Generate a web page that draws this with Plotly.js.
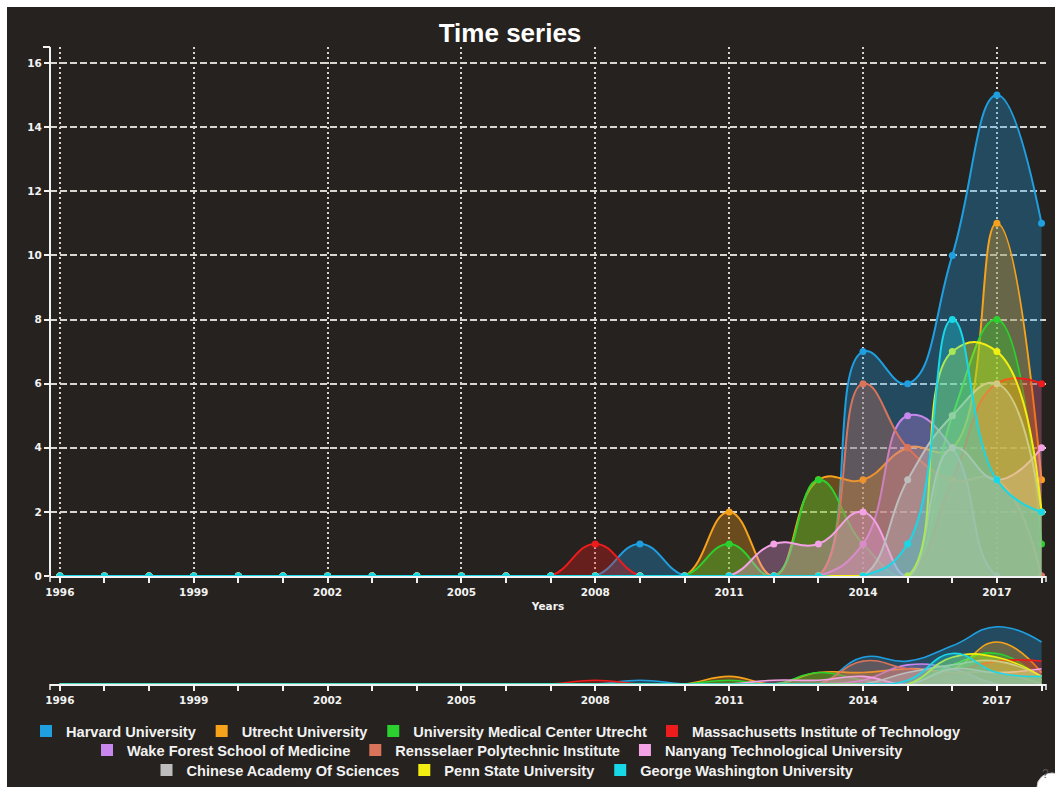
<!DOCTYPE html>
<html>
<head>
<meta charset="utf-8">
<script src="https://cdn.plot.ly/plotly-3.0.1.min.js"></script>
<style>
  html, body { margin: 0; padding: 0; background: #ffffff; }
  #chart { position: absolute; left: 7px; top: 7px; width: 1048px; height: 780px; }
</style>
</head>
<body>
<div id="chart"></div>
<script>
// Publications per year for each institution
const years = [1996, 1997, 1998, 1999, 2000, 2001, 2002, 2003, 2004, 2005, 2006, 2007,
               2008, 2009, 2010, 2011, 2012, 2013, 2014, 2015, 2016, 2017, 2018];

const seriesNames = [
  'Harvard University',
  'Utrecht University',
  'University Medical Center Utrecht',
  'Massachusetts Institute of Technology',
  'Wake Forest School of Medicine',
  'Rensselaer Polytechnic Institute',
  'Nanyang Technological University',
  'Chinese Academy Of Sciences',
  'Penn State University',
  'George Washington University'
];

const harvard      = [0,0,0,0,0,0,0,0,0,0,0,0, 0,1,0,0,0,0, 7,6,10,15,11];
const utrecht      = [0,0,0,0,0,0,0,0,0,0,0,0, 0,0,0,2,0,3, 3,4,4,11,3];
const umcUtrecht   = [0,0,0,0,0,0,0,0,0,0,0,0, 0,0,0,1,0,3, 1,0,5,8,1];
const mit          = [0,0,0,0,0,0,0,0,0,0,0,0, 1,0,0,0,0,0, 0,0,3,6,6];
const wakeForest   = [0,0,0,0,0,0,0,0,0,0,0,0, 0,0,0,0,0,0, 1,5,4,0,0];
const rensselaer   = [0,0,0,0,0,0,0,0,0,0,0,0, 0,0,0,0,0,0, 6,4,3,3,0];
const nanyang      = [0,0,0,0,0,0,0,0,0,0,0,0, 0,0,0,0,1,1, 2,0,4,3,4];
const chineseAcad  = [0,0,0,0,0,0,0,0,0,0,0,0, 0,0,0,0,0,0, 0,3,5,6,2];
const pennState    = [0,0,0,0,0,0,0,0,0,0,0,0, 0,0,0,0,0,0, 0,0,7,7,2];
const georgeWash   = [0,0,0,0,0,0,0,0,0,0,0,0, 0,0,0,0,0,0, 0,1,8,3,2];

const seriesValues = [harvard, utrecht, umcUtrecht, mit, wakeForest,
                      rensselaer, nanyang, chineseAcad, pennState, georgeWash];

const seriesColors = ['#1f9fe0', '#f7a21b', '#2bd12e', '#ee1c1c', '#c887ee',
                      '#d9735a', '#f3a2e6', '#bdbdbd', '#f2ee12', '#18d8e8'];

// legend rows
const legendRows = [[0, 1, 2, 3], [4, 5, 6], [7, 8, 9]];

function rgba(hex, a) {
  const n = parseInt(hex.slice(1), 16);
  return 'rgba(' + ((n >> 16) & 255) + ',' + ((n >> 8) & 255) + ',' + (n & 255) + ',' + a + ')';
}

const BG = '#26221f';
const INK = '#f2f2f2';
const tickFont = { family: 'DejaVu Sans', size: 10.5, color: INK, weight: 'bold' };

const traces = [];

// focus chart: filled smooth lines with point markers
seriesValues.forEach((vals, i) => {
  traces.push({
    type: 'scatter', mode: 'lines+markers',
    x: years, y: vals, xaxis: 'x', yaxis: 'y',
    name: seriesNames[i], showlegend: false, hoverinfo: 'x+y+name',
    line: { color: seriesColors[i], width: 2, shape: 'spline', smoothing: 1.3 },
    marker: { color: seriesColors[i], size: 7 },
    fill: 'tozeroy', fillcolor: rgba(seriesColors[i], 0.33)
  });
});

// context chart underneath
seriesValues.forEach((vals, i) => {
  traces.push({
    type: 'scatter', mode: 'lines',
    x: years, y: vals, xaxis: 'x2', yaxis: 'y2',
    showlegend: false, hoverinfo: 'skip',
    line: { color: seriesColors[i], width: 1.6, shape: 'spline', smoothing: 1.3 },
    fill: 'tozeroy', fillcolor: rgba(seriesColors[i], 0.33)
  });
});

// legend swatches
legendRows.forEach((row, r) => {
  row.forEach(i => {
    traces.push({
      type: 'bar', x: [null], y: [null], xaxis: 'x2', yaxis: 'y2',
      name: seriesNames[i], marker: { color: seriesColors[i] },
      showlegend: true, legend: r === 0 ? 'legend' : 'legend' + (r + 1),
      hoverinfo: 'skip'
    });
  });
});

const W = 1048, H = 780;
const mL = 43, mR = 9, mT = 40, mB = 103;
const plotH = H - mT - mB;
const mainBottom = 569;   // px from top of the figure
const ctxTop = 614;
const mainDomain = [(H - mB - mainBottom) / plotH, 1];
const ctxDomain = [0, (H - mB - ctxTop) / plotH];
const xRange = [1995.78, 2018.1];

function legendAt(cx, cy) {
  return {
    orientation: 'h', xref: 'container', yref: 'container',
    x: cx / W, y: 1 - cy / H, xanchor: 'center', yanchor: 'middle',
    bgcolor: 'rgba(0,0,0,0)', borderwidth: 0,
    font: { family: 'Liberation Sans', size: 14.6, color: INK, weight: 'bold' },
    itemclick: false, itemdoubleclick: false, traceorder: 'normal'
  };
}

const axisX = {
  range: xRange, tickmode: 'linear', tick0: 1996, dtick: 3,
  showline: true, linecolor: INK, linewidth: 2,
  ticks: 'outside', ticklen: 5, tickwidth: 1.5, tickcolor: INK,
  tickfont: tickFont, zeroline: false, fixedrange: true,
  minor: { dtick: 1, tick0: 1996, ticks: 'outside', ticklen: 5, tickwidth: 1.5, tickcolor: INK, showgrid: false }
};

// outer ticks at the axis ends
function px2paperX(px) { return (px - mL) / (W - mL - mR); }
function px2paperY(py) { return (H - mB - py) / plotH; }
const outer = [];
[[43, 40, 36, 40], [43, 40, 43, 569]].forEach(s => {
  outer.push({ type: 'line', xref: 'paper', yref: 'paper',
    x0: px2paperX(s[0]), y0: px2paperY(s[1]), x1: px2paperX(s[2]), y1: px2paperY(s[3]),
    line: { color: INK, width: 2 } });
});
[[43, 569], [1039, 569], [43, 677], [1039, 677]].forEach(p => {
  outer.push({ type: 'line', xref: 'paper', yref: 'paper',
    x0: px2paperX(p[0]), y0: px2paperY(p[1]), x1: px2paperX(p[0]), y1: px2paperY(p[1] + 6),
    line: { color: INK, width: 1.5 } });
});
// help bubble in the corner
outer.push({ type: 'circle', xref: 'paper', yref: 'paper',
  x0: px2paperX(1030), x1: px2paperX(1060), y0: px2paperY(766), y1: px2paperY(794),
  fillcolor: '#ffffff', line: { color: '#cccccc', width: 1 } });

const layout = {
  width: W, height: H,
  margin: { l: mL, r: mR, t: mT, b: mB },
  paper_bgcolor: BG, plot_bgcolor: BG,
  title: {
    text: 'Time series', xref: 'container', yref: 'container',
    x: 503 / W, y: 1 - 26 / H, xanchor: 'center', yanchor: 'middle',
    font: { family: 'Liberation Sans', size: 26, color: '#ffffff', weight: 'bold' }
  },
  xaxis: Object.assign({}, axisX, {
    anchor: 'y', domain: [0, 1],
    showgrid: true, gridcolor: '#d9d5cf', gridwidth: 2, griddash: '2px,3px',
    title: { text: 'Years', standoff: 6, font: { family: 'DejaVu Sans', size: 10.5, color: INK, weight: 'bold' } }
  }),
  yaxis: {
    anchor: 'x', domain: mainDomain, range: [0, 16.5],
    tickmode: 'linear', tick0: 0, dtick: 2,
    showline: false, ticks: 'outside', ticklen: 5, tickwidth: 1.5, tickcolor: INK,
    tickfont: tickFont, zeroline: false, fixedrange: true,
    showgrid: true, gridcolor: '#d9d5cf', gridwidth: 1.5, griddash: '7px,3px'
  },
  xaxis2: Object.assign({}, axisX, { anchor: 'y2', domain: [0, 1], showgrid: false }),
  yaxis2: {
    anchor: 'x2', domain: ctxDomain, range: [0, 16.5],
    visible: false, fixedrange: true
  },
  legend: legendAt(489, 724),
  legend2: legendAt(491, 743),
  legend3: legendAt(496, 763),
  shapes: outer,
  annotations: [{
    xref: 'paper', yref: 'paper', x: px2paperX(1044), y: px2paperY(776),
    text: '?', showarrow: false, font: { family: 'Liberation Sans', size: 12, color: '#555555' }
  }],
  showlegend: true,
  hovermode: 'closest'
};

Plotly.newPlot('chart', traces, layout, { displayModeBar: false, responsive: false });
</script>
</body>
</html>
